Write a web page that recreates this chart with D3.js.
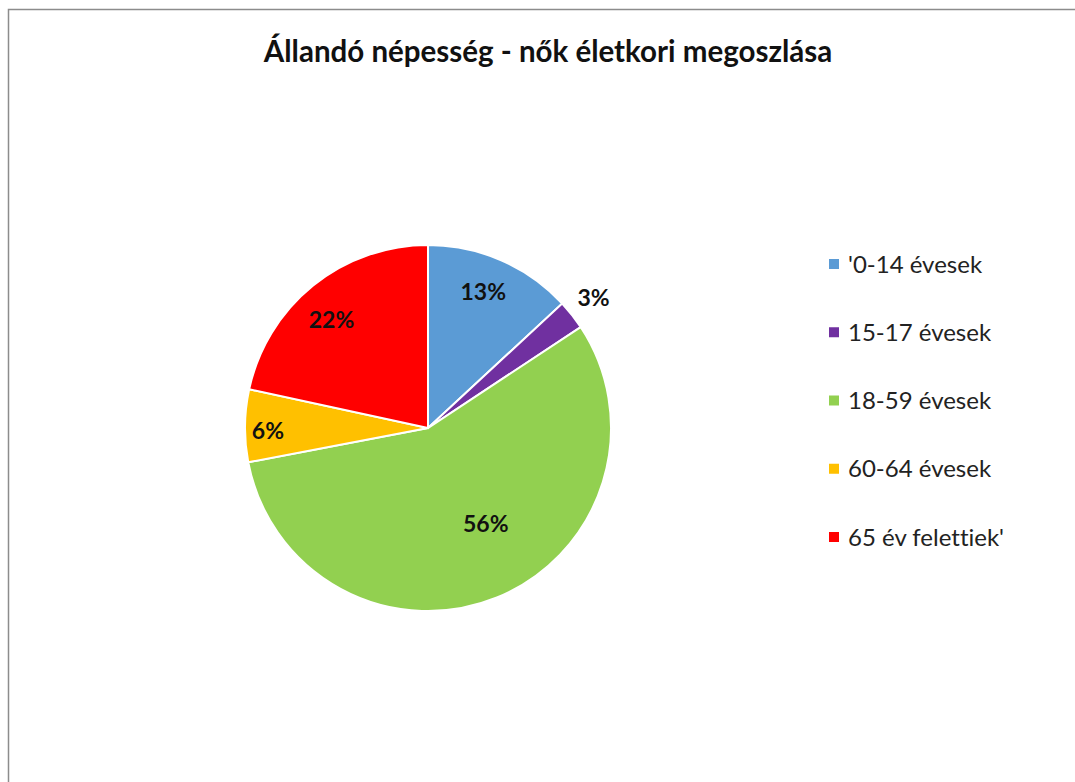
<!DOCTYPE html>
<html>
<head>
<meta charset="utf-8">
<script src="https://cdn.jsdelivr.net/npm/d3@7"></script>
<style>
  body { margin: 0; background: #fff; }
  svg { display: block; }
  text { font-variant-ligatures: none; }
</style>
</head>
<body>
<div id="chart"></div>
<script>
// data
const categories = ["'0-14 évesek", "15-17 évesek", "18-59 évesek", "60-64 évesek", "65 év felettiek'"];
const shares = [13.1, 2.6, 56.3, 6.4, 21.6];
const percentLabels = ["13%", "3%", "56%", "6%", "22%"];
const colors = ["#5B9BD5", "#7030A0", "#92D050", "#FFC000", "#FF0000"];

// label placement (Excel "best fit" look): radius share and small angle nudge in degrees
const labelRadiusFactor = [0.8, 1.15, 0.61, 0.875, 0.79];
const labelAngleNudge = [-1.4, 0, -9, -1.8, -3];

const WIDTH = 1075, HEIGHT = 782;
const cx = 428, cy = 428, R = 183;
const FONT = "Lato, 'Open Sans', sans-serif";

let svg = d3.select("#chart")
  .append("svg")
  .attr("width", WIDTH)
  .attr("height", HEIGHT);

// frame
svg.append("rect")
  .attr("x", 8.5).attr("y", 9.5)
  .attr("width", WIDTH + 20).attr("height", HEIGHT + 20)
  .attr("fill", "#fff")
  .attr("stroke", "#8c8c8c")
  .attr("stroke-width", 1.5);

svg.append("text")
  .attr("x", 548).attr("y", 62)
  .attr("text-anchor", "middle")
  .attr("font-family", FONT)
  .attr("font-weight", "bold")
  .attr("font-size", 29.5)
  .attr("fill", "#111")
  .text("Állandó népesség - nők életkori megoszlása");

let pie = d3.pie().sort(null).value(d => d)(shares);
let arc = d3.arc().innerRadius(0).outerRadius(R);

let g = svg.append("g").attr("transform", `translate(${cx},${cy})`);

g.selectAll("path.slice")
  .data(pie)
  .enter()
  .append("path")
  .attr("class", "slice")
  .attr("d", arc)
  .attr("fill", (d, i) => colors[i])
  .attr("stroke", "#fff")
  .attr("stroke-width", 2);

g.selectAll("text.lbl")
  .data(pie)
  .enter()
  .append("text")
  .attr("class", "lbl")
  .attr("transform", (d, i) => {
    let a = (d.startAngle + d.endAngle) / 2 + labelAngleNudge[i] * Math.PI / 180;
    let r = R * labelRadiusFactor[i];
    return `translate(${Math.sin(a) * r},${-Math.cos(a) * r})`;
  })
  .attr("text-anchor", "middle")
  .attr("dy", "0.35em")
  .attr("font-family", FONT)
  .attr("font-weight", "bold")
  .attr("font-size", 23)
  .attr("fill", "#111")
  .text((d, i) => percentLabels[i]);

// legend
let legendY = d3.scalePoint().domain(categories).range([264, 537]);

let legend = svg.selectAll("g.legend")
  .data(categories)
  .enter()
  .append("g")
  .attr("class", "legend")
  .attr("transform", d => `translate(829,${legendY(d)})`);

legend.append("rect")
  .attr("x", 0).attr("y", -5)
  .attr("width", 10).attr("height", 10)
  .attr("fill", (d, i) => colors[i]);

legend.append("text")
  .attr("x", 19)
  .attr("dy", "0.36em")
  .attr("font-family", FONT)
  .attr("font-size", 24)
  .attr("fill", "#222")
  .text(d => d);
</script>
</body>
</html>
